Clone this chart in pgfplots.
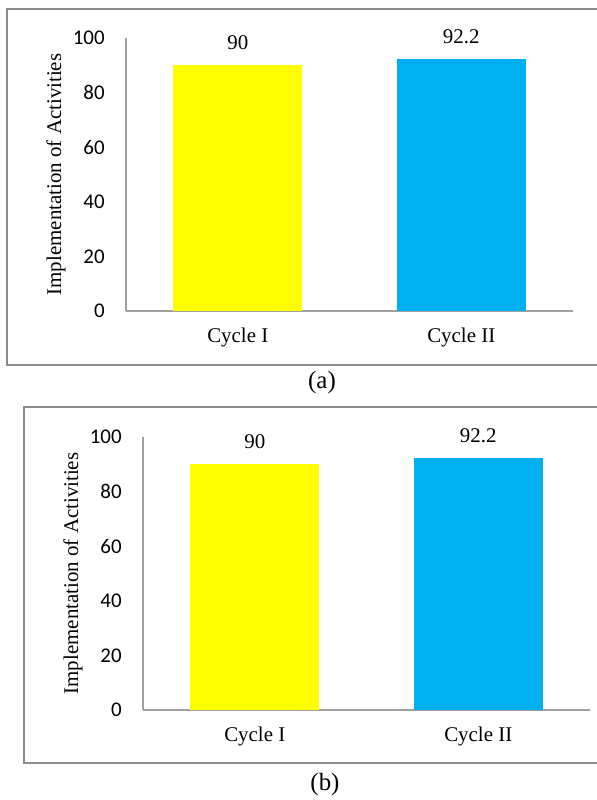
\documentclass[border=0pt]{standalone}
\usepackage{fontspec}
\setmainfont{Liberation Serif}
\newfontfamily\carlito{Carlito}
\usepackage{pgfplots}
\pgfplotsset{compat=1.18}
\definecolor{barY}{HTML}{FFFF00}
\definecolor{barB}{HTML}{00B0F0}
\definecolor{axgray}{HTML}{A0A0A0}
\definecolor{framegray}{HTML}{8C8C8C}
\pgfplotsset{
 mychart/.style={
  scale only axis, width=223.5bp, height=136.5bp,
  xmin=-0.5, xmax=1.5, ymin=0, ymax=100,
  axis x line*=bottom, axis y line*=left,
  axis line style={axgray, line width=0.9bp},
  ytick={0,20,...,100}, xtick={0,1}, xticklabels={Cycle I, Cycle II},
  major tick length=0pt,
  /pgf/number format/assume math mode=true,
  yticklabel style={font=\carlito\fontsize{10.5}{12}\selectfont, anchor=east, inner sep=0pt, xshift=-10.5bp},
  xticklabel style={font=\fontsize{10.5}{12}\selectfont, anchor=base, inner sep=0pt, yshift=-16bp},
  ylabel={Implementation of Activities},
  every axis y label/.style={at={(axis description cs:0,0.5)}, rotate=90, anchor=center, yshift=35bp, font=\fontsize{10.5}{12}\selectfont},
  ybar, bar width=0.577, bar shift=0pt,
  nodes near coords,
  every node near coord/.style={font=\fontsize{10.5}{12}\selectfont, anchor=base, inner sep=0pt, yshift=8bp, text=black},
  clip=false,
 }
}
\begin{document}
\begin{tikzpicture}[x=0.5bp,y=0.5bp]
\useasboundingbox (0,0) rectangle (597,800);
\draw[framegray, line width=1bp] (602,791) -- (7,791) -- (7,435) -- (602,435);
\begin{axis}[mychart, at={(63bp,244.5bp)}, anchor=south west]
\addplot[fill=barY, draw=none] coordinates {(0,90)};
\addplot[fill=barB, draw=none] coordinates {(1,92.2)};
\end{axis}
\node[font=\fontsize{12.5}{14}\selectfont] at (322,417) {(a)};
\draw[framegray, line width=1bp] (602,393) -- (24,393) -- (24,37) -- (602,37);
\begin{axis}[mychart, at={(71.5bp,45bp)}, anchor=south west]
\addplot[fill=barY, draw=none] coordinates {(0,90)};
\addplot[fill=barB, draw=none] coordinates {(1,92.2)};
\end{axis}
\node[font=\fontsize{12.5}{14}\selectfont] at (325,15) {(b)};
\end{tikzpicture}
\end{document}
